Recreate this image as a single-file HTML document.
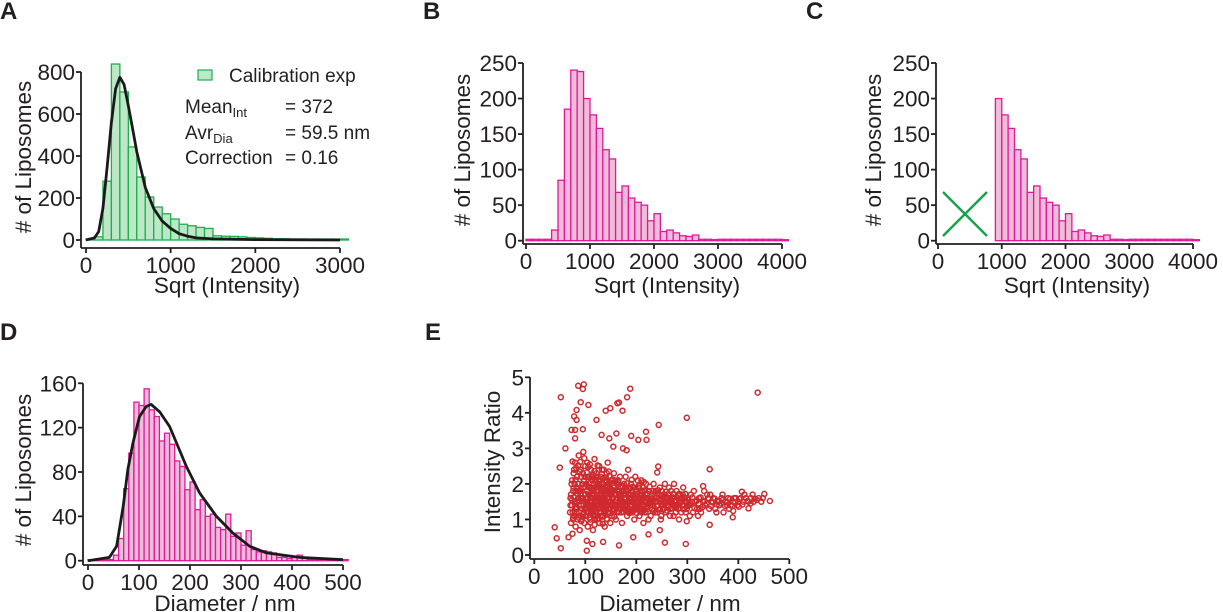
<!DOCTYPE html>
<html><head><meta charset="utf-8">
<style>
html,body{margin:0;padding:0;background:#fff;}
svg{display:block;font-family:"Liberation Sans",Arial,sans-serif;fill:#231f20;}
.tk{font-size:22.5px;}
.tt{font-size:22.5px;}
.pl{font-size:24px;font-weight:bold;}
.ax{stroke:#231f20;stroke-width:1.8;fill:none;}
</style></head>
<body>
<svg id="fig" width="1223" height="612" viewBox="0 0 1223 612" xmlns="http://www.w3.org/2000/svg">
<g id="gA"></g>
<g id="gB"></g>
<g id="gC"></g>
<g id="gD"></g>
<g id="gE"></g>
</svg>
<script>
// Panel A data: calibration histogram (bin width 100, starting at 0)
const aCounts = [3,15,280,838,705,443,300,205,157,125,100,75,68,60,55,20,18,17,15,12,10,8,6,6,5,5,4,4,4,4,3];
const aCurveX = [0,100,150,200,250,300,350,400,450,500,550,600,700,800,900,1000,1100,1200,1300,1500,2000,3000];
const aCurveY = [0,10,40,150,350,560,720,775,740,640,530,420,250,150,90,55,30,18,10,5,2,0];
const aYTicks = [0,200,400,600,800];
const aXTicks = [0,1000,2000,3000];
// Panel B data: bin width 100
const bCounts = [2,2,2,2,15,85,185,240,238,200,177,158,128,115,68,77,60,54,50,28,38,13,15,11,7,6,8,2,2,1,2,2,2,2,2,2,2,2,2,2,1];
const bYTicks = [0,50,100,150,200,250];
const bXTicks = [0,1000,2000,3000,4000];
// Panel C: bins below 900 removed
const cStartBin = 9;
// Panel D data: bin width 10 nm
const dCounts = [0,1,1,1,1,5,20,65,97,143,140,155,136,130,108,115,105,90,85,64,71,46,55,40,42,30,28,42,22,25,14,27,10,8,9,8,7,3,3,2,3,5,2,1,1,1,1,1,1,1,1];
const dCurveX = [0,42,56,69,78,88,101,114,124,141,160,193,219,252,284,317,350,415,500];
const dCurveY = [0,3,13,49,82,106,130,139,141,134,121,85,61,40,25,13,7,3,1];
const dYTicks = [0,40,80,120,160];
const dXTicks = [0,100,200,300,400,500];
// Panel E data: diameter (nm), intensity ratio
const eDiam = [40,44,52,52,50,61,67,75,86,97,95,91,106,83,78,83,73,80,95,80,122,132,140,149,163,166,173,182,188,190,204,219,220,161,147,244,299,438,344,243,241,331,155,174,181,103,103,114,135,166,194,224,246,256,297,344,299,389,390,462,451,407,401,420,
70,71,72,73,74,75,76,77,78,79,80,81,82,83,84,85,86,87,88,89,90,91,92,93,94,95,96,97,98,99,100,72,74,76,78,80,82,84,86,88,90,92,94,96,98,100,71,75,79,83,87,91,95,99,
101,102,103,104,105,106,107,108,109,110,111,112,113,114,115,116,117,118,119,120,121,122,123,124,125,126,127,128,129,130,131,132,133,134,135,136,137,138,139,140,141,142,143,144,145,146,147,148,149,150,
103,106,109,112,115,118,121,124,127,130,133,136,139,142,145,148,102,105,108,111,114,117,120,123,126,129,132,135,138,141,144,147,150,
104,107,110,113,116,119,122,125,128,131,134,137,140,143,146,149,101,105,109,113,117,121,125,129,133,137,141,145,
152,154,156,158,160,162,164,166,168,170,172,174,176,178,180,182,184,186,188,190,192,194,196,198,200,202,204,206,208,210,212,214,216,218,220,
153,157,161,165,169,173,177,181,185,189,193,197,201,205,209,213,217,155,159,163,167,171,175,179,183,187,191,195,199,203,207,211,215,219,
151,156,162,168,174,180,186,192,198,204,210,216,158,166,172,178,184,194,200,208,
222,225,228,231,234,237,240,243,246,249,252,255,258,261,264,267,270,273,276,279,282,285,288,291,294,297,300,
223,227,232,236,241,245,250,254,259,263,268,272,277,281,286,290,295,299,224,238,248,256,266,274,284,292,
226,233,239,247,253,260,269,278,287,296,
303,307,311,315,319,323,327,331,335,339,343,347,351,355,359,363,367,371,375,380,385,390,395,400,405,410,415,420,425,430,440,445,
305,313,321,333,345,357,369,382,398,412,428,448,309,325,341,361,378,392];
const eRatio = [0.78,0.47,4.44,0.19,2.46,3.0,0.5,2.63,4.76,4.8,4.67,4.3,4.22,4.08,3.9,3.8,3.52,3.52,3.54,3.28,3.8,3.38,4.06,4.13,4.27,4.29,4.06,4.44,4.68,3.35,3.24,3.47,3.24,3.42,3.28,3.66,3.86,4.57,2.41,2.49,2.32,1.94,3.05,3.0,2.95,0.4,0.12,0.31,0.37,0.27,0.5,0.58,0.7,0.35,0.31,0.85,0.95,1.06,1.24,1.52,1.72,1.78,1.36,1.31,
1.2,1.6,0.9,2.0,1.4,0.6,1.8,2.3,1.1,1.5,2.6,0.8,1.3,1.9,2.2,1.0,1.6,2.8,1.2,0.7,1.8,2.4,1.4,1.0,2.0,1.6,2.9,1.2,0.9,2.2,1.7,1.7,2.1,1.0,2.4,1.3,1.8,1.5,2.0,1.8,1.1,2.2,1.3,1.9,1.5,2.5,1.4,1.2,2.0,1.2,1.4,1.6,2.3,1.3,
1.1,2.0,1.4,2.6,0.8,1.7,2.2,1.3,1.9,1.0,2.4,1.6,1.2,2.1,0.7,1.8,1.4,2.7,1.1,1.9,1.5,2.3,1.0,1.7,2.0,1.3,2.5,0.9,1.6,2.2,1.2,1.8,1.4,2.0,1.1,2.4,1.6,0.8,1.9,1.3,2.1,1.7,1.0,2.6,1.5,1.2,2.0,1.8,0.9,1.4,
1.8,1.2,1.5,2.2,1.4,1.9,1.2,2.2,1.6,1.1,2.4,1.5,1.2,2.3,1.8,1.3,1.5,2.2,1.7,1.3,1.6,2.0,1.3,1.6,1.9,1.2,1.5,1.8,2.1,1.5,1.2,1.6,2.1,
1.5,1.9,1.4,1.7,1.3,1.6,1.8,1.4,1.7,1.9,1.3,1.6,1.5,1.8,1.4,1.7,1.3,1.6,1.5,1.8,1.7,1.4,1.9,1.5,1.6,1.3,1.7,1.5,
1.1,1.8,2.3,1.4,1.0,2.0,1.6,1.2,2.2,1.7,0.9,1.5,2.0,1.3,1.8,1.1,2.4,1.6,1.4,2.0,1.2,1.7,1.0,2.2,1.5,1.3,1.9,1.1,1.6,2.1,1.4,0.9,1.8,1.2,1.6,
1.6,1.9,1.3,2.1,1.4,1.9,1.6,1.4,1.9,1.7,1.5,1.3,1.8,1.6,1.3,1.9,1.5,1.3,2.1,1.8,1.5,1.2,1.8,2.2,1.5,1.2,1.6,1.9,1.4,2.1,1.7,1.2,1.5,2.0,
1.5,1.7,1.4,1.6,1.5,1.7,1.5,1.4,1.6,1.5,1.3,1.6,1.4,1.7,1.5,1.6,1.3,1.5,1.4,1.6,
1.3,1.8,1.1,1.5,2.0,1.2,1.6,1.4,1.9,1.1,1.5,1.7,1.2,1.4,1.9,1.3,1.6,1.1,1.5,1.8,1.3,1.5,1.2,1.7,1.4,1.2,1.6,
1.6,1.4,1.8,1.5,1.2,1.6,1.8,1.3,1.6,1.5,1.8,1.4,1.2,1.6,1.7,1.4,1.6,1.3,1.0,1.8,1.0,2.0,1.1,2.0,1.0,1.9,
1.5,1.4,1.5,1.3,1.5,1.4,1.5,1.4,1.5,1.5,
1.4,1.7,1.2,1.5,1.3,1.6,1.2,1.5,1.4,1.7,1.3,1.5,1.6,1.3,1.5,1.4,1.6,1.2,1.5,1.6,1.4,1.5,1.6,1.5,1.6,1.5,1.6,1.5,1.6,1.5,1.6,1.5,
1.1,1.8,1.1,1.8,1.7,1.2,1.7,1.3,1.4,1.7,1.7,1.6,1.5,1.3,1.6,1.5,1.4,1.6];
// Panel E second batch (dense core)
const eDiamB = [76,78,81,84,87,89,92,94,97,99,77,79,82,85,88,90,93,96,98,100,74,80,86,91,95,
102,104,106,108,110,112,114,116,118,120,122,124,126,128,130,132,134,136,138,140,142,144,146,148,150,
101,103,105,107,109,111,113,115,117,119,121,123,125,127,129,131,133,135,137,139,141,143,145,147,149,
104,108,112,116,120,124,128,132,136,140,144,148,110,118,126,134,142,
152,154,156,158,160,162,164,166,168,170,172,174,176,178,180,182,184,186,188,190,192,194,196,198,200,202,204,206,208,210,212,214,216,218,220,
153,157,161,165,169,173,177,181,185,189,193,197,201,205,209,213,217,
155,159,163,167,171,175,179,183,187,191,195,199,203,207,211,215,219,
222,225,228,231,234,237,240,243,246,249,252,255,258,261,264,267,270,273,276,279,282,285,288,291,294,297,300,
223,226,229,232,235,238,242,245,248,251,254,257,260,263,266,269,272,275,278,281,284,287,290,293,296,299,
302,306,310,314,318,322,326,330,334,338,342,346,350,354,358,362,366,370,374,378,384,388,394,402,408,418,424,432,436];
const eRatioB = [1.05,1.62,2.12,1.33,1.78,2.35,0.95,1.52,2.08,1.27,1.88,1.22,2.45,1.71,1.04,2.62,1.58,1.15,2.72,1.92,1.55,1.44,2.52,1.86,1.08,
1.32,1.95,2.48,1.05,1.62,2.15,1.28,1.84,2.36,1.12,1.68,2.52,1.42,1.98,1.22,2.28,1.55,1.88,1.35,2.18,1.02,1.75,2.35,1.48,1.82,
1.72,2.32,1.45,1.92,2.55,1.18,1.88,2.25,1.55,1.02,2.05,1.38,1.82,2.12,1.45,1.75,1.08,2.15,1.82,1.55,1.28,1.92,1.62,2.22,1.18,
1.22,2.02,1.48,1.12,2.12,1.52,1.32,2.02,1.25,1.72,1.95,2.05,0.92,0.85,1.02,0.88,1.38,
1.62,1.25,1.95,1.72,1.38,1.55,2.05,1.78,1.32,1.52,1.95,1.22,1.72,1.58,1.42,2.02,1.72,1.18,1.88,1.42,1.78,1.25,1.62,1.85,1.28,1.72,1.45,1.88,1.22,1.68,1.78,1.42,1.28,1.72,1.38,
2.12,1.08,1.72,1.32,1.92,1.45,1.28,1.85,1.48,1.25,1.92,1.58,1.18,1.95,1.52,1.25,1.82,
1.82,1.48,1.22,1.72,1.62,1.38,1.72,1.22,1.55,2.12,1.45,1.68,1.35,1.42,1.58,2.05,1.48,
1.72,1.45,1.62,1.28,1.55,1.75,1.38,1.82,1.52,1.68,1.28,1.45,1.78,1.62,1.35,1.55,1.32,1.72,1.38,1.52,1.68,1.32,1.58,1.42,1.62,1.52,1.38,
1.22,1.92,1.48,1.58,1.25,1.52,1.72,1.28,1.58,1.42,1.62,1.48,1.25,1.72,1.58,1.42,1.62,1.52,1.32,1.42,1.72,1.48,1.58,1.28,1.72,1.48,
1.55,1.42,1.62,1.32,1.52,1.45,1.62,1.35,1.52,1.45,1.58,1.38,1.48,1.58,1.42,1.52,1.45,1.55,1.38,1.48,1.58,1.38,1.48,1.58,1.42,1.52,1.45,1.58,1.55];
const eYTicks = [0,1,2,3,4,5];
const eXTicks = [0,100,200,300,400,500];

const NS='http://www.w3.org/2000/svg';
function mk(parent, tag, attrs, text){
  const el=document.createElementNS(NS,tag);
  for(const k in attrs) el.setAttribute(k,attrs[k]);
  if(text!==undefined) el.textContent=text;
  parent.appendChild(el); return el;
}
function lin(d0,d1,r0,r1){return v=>r0+(v-d0)*(r1-r0)/(d1-d0);}

function axes(g, o){
  const yl=mk(g,'line',{x1:o.ax,y1:o.sy(o.yTicks[o.yTicks.length-1]),x2:o.ax,y2:o.ay,class:'ax'});
  
  
  const xl=mk(g,'line',{x1:o.ax,y1:o.ay,x2:o.xEnd,y2:o.ay,class:'ax'});
  
  
  o.yTicks.forEach(t=>{
    const y=o.sy(t);
    mk(g,'line',{x1:o.ax-5,y1:y,x2:o.ax,y2:y,class:'ax'});
    const tx=mk(g,'text',{x:o.ax-6,y:y+8,'text-anchor':'end',class:'tk'},String(t));
    
    
  });
  o.xTicks.forEach(t=>{
    const x=o.sx(t);
    mk(g,'line',{x1:x,y1:o.ay,x2:x,y2:o.ay+5,class:'ax'});
    const tx=mk(g,'text',{x:x,y:o.ay+25,'text-anchor':'middle',class:'tk'},String(t));
    
    
  });
  const xt=mk(g,'text',{x:o.xtx,y:o.xty,'text-anchor':'middle',class:'tt'},o.xTitle);
  
  
  const yt=mk(g,'text',{x:0,y:0,'text-anchor':'middle',class:'tt',transform:`translate(${o.ytx},${o.yty}) rotate(-90)`},o.yTitle);
  
  
  const pl=mk(g,'text',{x:o.plx,y:o.ply,class:'pl'},o.label);
  
  
}
function hist(g, counts, bw, start, sx, sy, fill, stroke){
  for(let i=start;i<counts.length;i++){
    const x0=sx(i*bw), x1=sx((i+1)*bw), y=sy(counts[i]), y0=sy(0);
    const r=mk(g,'rect',{x:x0,y:Math.min(y,y0-1),width:x1-x0,height:Math.max(y0-y,1),fill:fill,stroke:stroke,'stroke-width':1.3});
    
    
  }
}
function curve(g, xs, ys, sx, sy){
  let d='';
  xs.forEach((x,i)=>{d+=(i?'L':'M')+sx(x).toFixed(1)+','+sy(ys[i]).toFixed(1);});
  const p=mk(g,'path',{d:d,fill:'none',stroke:'#1a1a1a','stroke-width':2.8,'stroke-linejoin':'round'});
  
  
}

const GF='#bde8c8', GS='#1fae4d', PF='#f0bcd9', PS='#e0189c';

// Panel A
{
  const g=document.getElementById('gA');
  const sx=lin(0,3000,86,340), sy=lin(0,800,240,72);
  hist(g,aCounts,100,0,sx,sy,GF,GS);
  curve(g,aCurveX,aCurveY,sx,sy);
  axes(g,{ax:81,ay:248,xEnd:340,sx,sy,yTicks:aYTicks,xTicks:aXTicks,xTitle:'Sqrt (Intensity)',xtx:227,xty:293,yTitle:'# of Liposomes',ytx:31,yty:157,label:'A',plx:0,ply:19});
  const lg=mk(g,'rect',{x:198,y:70,width:14,height:10,fill:GF,stroke:GS,'stroke-width':1.2});
  
  
  const lt=mk(g,'text',{x:229,y:82,style:'font-size:19px'},'Calibration exp');
  
  
  const st=mk(g,'g',{style:'font-size:19px'});
  
  
  const t1=mk(st,'text',{x:185,y:113},'Mean'); mk(t1,'tspan',{dy:4,style:'font-size:13px'},'Int');
  mk(st,'text',{x:285,y:113},'= 372');
  const t2=mk(st,'text',{x:185,y:139},'Avr'); mk(t2,'tspan',{dy:4,style:'font-size:13px'},'Dia');
  mk(st,'text',{x:285,y:139},'= 59.5 nm');
  mk(st,'text',{x:185,y:164},'Correction');
  mk(st,'text',{x:285,y:164},'= 0.16');
}
// Panel B
{
  const g=document.getElementById('gB');
  const sx=lin(0,4000,526,782), sy=lin(0,250,240.7,63);
  hist(g,bCounts,100,0,sx,sy,PF,PS);
  axes(g,{ax:523,ay:244,xEnd:782,sx,sy,yTicks:bYTicks,xTicks:bXTicks,xTitle:'Sqrt (Intensity)',xtx:667,xty:293,yTitle:'# of Liposomes',ytx:470,yty:150,label:'B',plx:423,ply:19});
}
// Panel C
{
  const g=document.getElementById('gC');
  const sx=lin(0,4000,938,1193), sy=lin(0,250,240.7,63);
  hist(g,bCounts,100,cStartBin,sx,sy,PF,PS);
  axes(g,{ax:936,ay:244,xEnd:1193,sx,sy,yTicks:bYTicks,xTicks:bXTicks,xTitle:'Sqrt (Intensity)',xtx:1077,xty:293,yTitle:'# of Liposomes',ytx:881,yty:150,label:'C',plx:806,ply:19});
  const x=mk(g,'path',{d:'M943,192L987,236M943,236L987,192',stroke:'#16a04a','stroke-width':2.4,fill:'none'});
  
  
}
// Panel D
{
  const g=document.getElementById('gD');
  const sx=lin(0,500,88,343), sy=lin(0,160,560.7,383.3);
  hist(g,dCounts,10,0,sx,sy,PF,PS);
  curve(g,dCurveX,dCurveY,sx,sy);
  axes(g,{ax:83,ay:565,xEnd:343,sx,sy,yTicks:dYTicks,xTicks:dXTicks,xTitle:'Diameter / nm',xtx:225,xty:611,yTitle:'# of Liposomes',ytx:31,yty:470,label:'D',plx:0,ply:340});
}
// Panel E
{
  const g=document.getElementById('gE');
  const sx=lin(0,500,534.3,789.3), sy=lin(0,5,555,377.3);
  const pts=mk(g,'g',{});
  
  
  const draw=(xs,ys)=>xs.forEach((d,i)=>{
    const c=mk(pts,'circle',{cx:sx(d).toFixed(1),cy:sy(ys[i]).toFixed(1),r:2.5,fill:'none',stroke:'#cf2a2e','stroke-width':1.5});
    
    
  });
  draw(eDiam,eRatio);
  draw(eDiamB,eRatioB);
  axes(g,{ax:530,ay:559,xEnd:789,sx,sy,yTicks:eYTicks,xTicks:eXTicks,xTitle:'Diameter / nm',xtx:670,xty:611,yTitle:'Intensity Ratio',ytx:500,yty:462,label:'E',plx:425,ply:340});
}
</script>
</body></html>
